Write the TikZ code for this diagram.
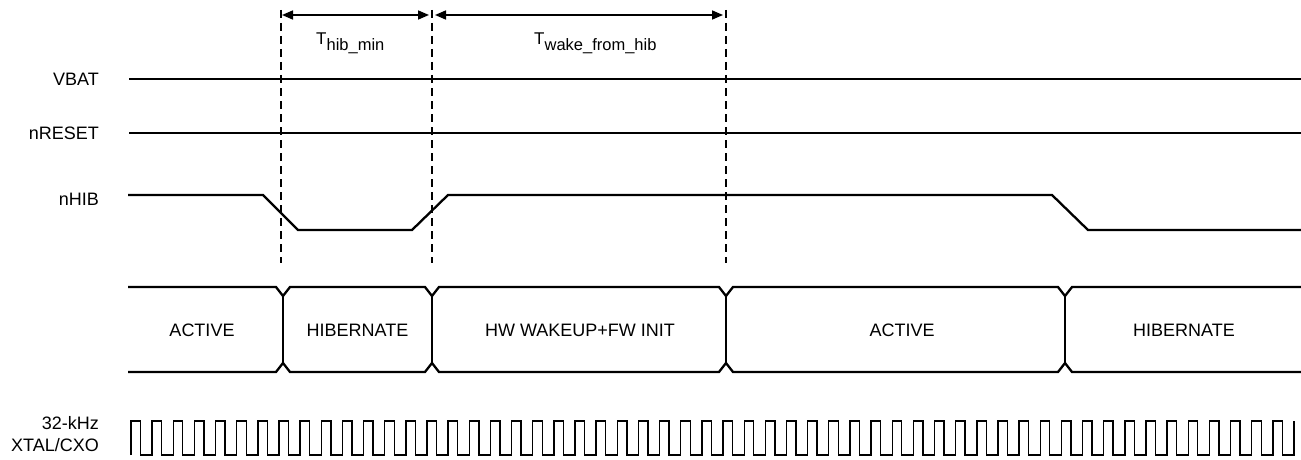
\documentclass[tikz,border=0pt]{standalone}
\usepackage{fontspec}
\setmainfont{Liberation Sans}
\usetikzlibrary{arrows.meta}
\begin{document}
\begin{tikzpicture}[x=1pt,y=-1pt,
 sig/.style={line width=2.3pt},
 bus/.style={line width=2.3pt},
 clkline/.style={line width=1.4pt},
 guide/.style={line width=1.2pt, dash pattern=on 8pt off 5pt},
 dimline/.style={line width=1.6pt, {Triangle[length=11pt,width=9pt]}-{Triangle[length=11pt,width=9pt]}},
 lbl/.style={font=\fontsize{18}{20}\selectfont, inner sep=0pt, anchor=base east},
 st/.style={font=\fontsize{18}{20}\selectfont, inner sep=0pt},
 tlbl/.style={inner sep=0pt, anchor=base west},
]
\useasboundingbox (0,0) rectangle (1301,460);

% guide lines
\foreach \x/\n in {281/d1,432/d2,726/d3}{
  \coordinate (\n t) at (\x,10);
  \coordinate (\n b) at (\x,263);
  \draw[guide] (\n t) -- (\n b);
}

% dimension arrows
\coordinate (a1) at (282,15);
\coordinate (a2) at (429,15);
\coordinate (b1) at (435,15);
\coordinate (b2) at (723,15);
\draw[dimline] (a1) -- (a2);
\draw[dimline] (b1) -- (b2);
\node[tlbl] (thib) at (316,45) {{\fontsize{17}{19}\selectfont T}{\fontsize{16.5}{18}\selectfont\raisebox{-6pt}{hib\_min}}};
\node[tlbl] (twake) at (534,45) {{\fontsize{17}{19}\selectfont T}{\fontsize{16.5}{18}\selectfont\raisebox{-6pt}{wake\_from\_hib}}};

% signal names
\node[lbl] (vbat) at (99,85) {VBAT};
\node[lbl] (nreset) at (99,139) {nRESET};
\node[lbl] (nhib) at (99,205) {nHIB};
\node[lbl] (clka) at (99,429) {32-kHz};
\node[lbl] (clkb) at (99,451) {XTAL/CXO};

% signals
\draw[sig] (129,79) -- (1301,79);
\draw[sig] (129,133) -- (1301,133);
\draw[sig] (128,195) -- (263,195) -- (298,230) -- (412,230) -- (448,195)
  -- (1052,195) -- (1088,230) -- (1301,230);

% state bus
\draw[bus] (128,287) -- (276,287) -- (283,296) -- (290,287) -- (425,287) -- (432,296)
  -- (439,287) -- (719,287) -- (726,296) -- (733,287) -- (1058,287) -- (1065,296)
  -- (1072,287) -- (1301,287);
\draw[bus] (128,372) -- (276,372) -- (283,363) -- (290,372) -- (425,372) -- (432,363)
  -- (439,372) -- (719,372) -- (726,363) -- (733,372) -- (1058,372) -- (1065,363)
  -- (1072,372) -- (1301,372);
\foreach \x in {283,432,726,1065}{
  \draw[bus] (\x,296) -- (\x,363);
}
\node[st] (s1) at (202,330) {ACTIVE};
\node[st] (s2) at (357.5,330) {HIBERNATE};
\node[st] (s3) at (580,330) {HW WAKEUP+FW INIT};
\node[st] (s4) at (902,330) {ACTIVE};
\node[st] (s5) at (1184,330) {HIBERNATE};

% clock
\draw[clkline] (131,455) \foreach \k in {1,...,55}{ -- ++(0,-34) -- ++(9.5,0) -- ++(0,34) -- ++(11.645,0)} -- ++(0,-34);
\end{tikzpicture}
\end{document}
